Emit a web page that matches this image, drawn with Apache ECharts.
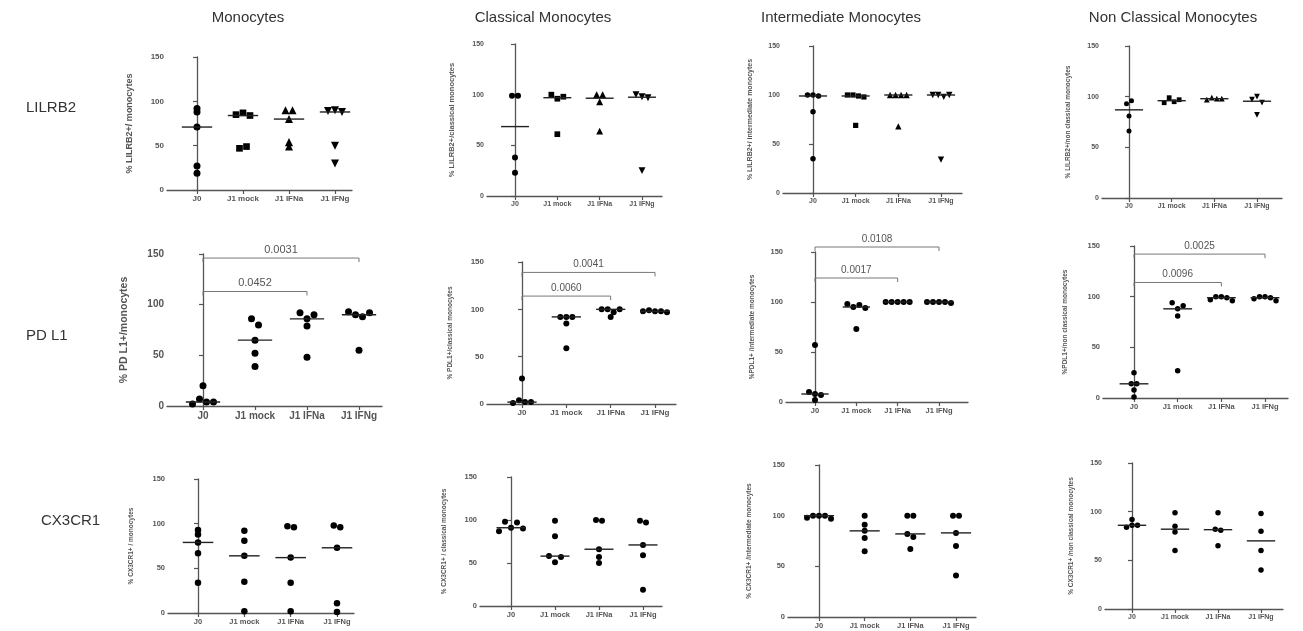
<!DOCTYPE html>
<html>
<head>
<meta charset="utf-8">
<script src="https://cdn.jsdelivr.net/npm/echarts@6/dist/echarts.min.js"></script>
<style>
html, body { margin: 0; background: #fff; }
#main { width: 1303px; height: 631px; }
</style>
</head>
<body>
<div id="main"></div>
<script>
var groups = ['J0', 'J1 mock', 'J1 IFNa', 'J1 IFNg'];
var yTicks = [0, 50, 100, 150];
var columns = ['Monocytes', 'Classical Monocytes', 'Intermediate Monocytes', 'Non Classical Monocytes'];
var rows = ['LILRB2', 'PD L1', 'CX3CR1'];

// LILRB2
var lilrb2Mono = [[92, 88, 71, 27, 19], [85, 87, 84, 47, 49], [90, 90, 80, 54, 49], [89, 90, 88, 50, 30]];
var lilrb2Classical = [[99, 99, 38, 23], [100, 96, 98, 61], [100, 100, 93, 64], [100, 98, 97, 25]];
var lilrb2Inter = [[100, 100, 99, 83, 35], [100, 100, 99, 98, 69], [100, 100, 100, 100, 68], [100, 100, 98, 100, 34]];
var lilrb2NonClass = [[93, 96, 81, 66], [94, 99, 95, 97], [97, 99, 98, 98], [97, 100, 94, 82]];
// PD L1
var pdl1Mono = [[2, 7, 20, 4, 4], [86, 80, 65, 52, 39], [92, 86, 90, 79, 48], [93, 90, 88, 92, 55]];
var pdl1Classical = [[1, 4, 2, 2, 27], [92, 92, 92, 85, 59], [100, 100, 97, 100, 92], [98, 99, 98, 98, 97]];
var pdl1Inter = [[10, 2, 8, 7, 57], [98, 95, 97, 94, 73], [100, 100, 100, 100, 100], [100, 100, 100, 100, 99]];
var pdl1NonClass = [[25, 14, 14, 8, 1], [94, 88, 91, 81, 27], [97, 100, 100, 99, 96], [98, 100, 100, 99, 96]];
// CX3CR1
var cx3cr1Mono = [[93, 88, 79, 67, 34], [92, 81, 64, 35, 2], [97, 96, 62, 34, 2], [98, 96, 73, 11, 1]];
var cx3cr1Classical = [[87, 98, 91, 97, 90], [99, 81, 58, 51, 57], [100, 99, 66, 57, 50], [99, 97, 71, 59, 19]];
var cx3cr1Inter = [[98, 100, 100, 100, 97], [100, 91, 85, 78, 65], [100, 100, 82, 79, 67], [100, 100, 83, 70, 41]];
var cx3cr1NonClass = [[84, 92, 86, 86], [99, 85, 79, 60], [99, 82, 81, 65], [98, 80, 60, 40]];

// p values : [from group, to group, bracket height, text]
var pdl1MonoP = [[0, 2, 113, '0.0452'], [0, 3, 146, '0.0031']];
var pdl1ClassicalP = [[0, 2, 114, '0.0060'], [0, 3, 139, '0.0041']];
var pdl1InterP = [[0, 2, 124, '0.0017'], [0, 3, 155, '0.0108']];
var pdl1NonClassP = [[0, 2, 114, '0.0096'], [0, 3, 142, '0.0025']];

// layout of the 12 panels (pixels)
var panels = [
  {values: lilrb2Mono, name: '% LILRB2+/ monocytes', axisX: 167, top: 57, zero: 190, first: 197, last: 335, right: 352, d: 7, gap: 3, font: 8, nameSize: 9, nameGap: 33, shapes: true},
  {values: lilrb2Classical, name: '% LILRB2+/classical monocytes', axisX: 487, top: 44, zero: 196, first: 515, last: 642, right: 662, d: 6, font: 7, nameSize: 7.5, nameGap: 31, shapes: true},
  {values: lilrb2Inter, name: '% LILRB2+/ intermediate monocytes', axisX: 783, top: 46, zero: 193, first: 813, last: 941, right: 962, d: 5.5, font: 7, nameSize: 7, nameGap: 29, shapes: true},
  {values: lilrb2NonClass, name: '% LILRB2+/non classical monocytes', axisX: 1102, top: 46, zero: 198, first: 1129, last: 1257, right: 1282, d: 5, font: 7, nameSize: 6.5, nameGap: 30, shapes: true},
  {values: pdl1Mono, name: '% PD L1+/monocytes', axisX: 167, top: 254, zero: 406, first: 203, last: 359, right: 382, d: 7, gap: 7, font: 10, nameSize: 10.5, nameGap: 37, pvals: pdl1MonoP},
  {values: pdl1Classical, name: '% PDL1+/classical monocytes', axisX: 487, top: 262, zero: 404, first: 522, last: 655, right: 676, d: 6, gap: 3.5, font: 8, nameSize: 6.5, nameGap: 33, pvals: pdl1ClassicalP},
  {values: pdl1Inter, name: '%PDL1+ /intermediate monocytes', axisX: 786, top: 252, zero: 402, first: 815, last: 939, right: 968, d: 6, font: 7.5, nameSize: 6.5, nameGap: 30, pvals: pdl1InterP},
  {values: pdl1NonClass, name: '%PDL1+/non classical monocytes', axisX: 1103, top: 246, zero: 398, first: 1134, last: 1265, right: 1288, d: 5.5, font: 7.5, nameSize: 6.5, nameGap: 34, pvals: pdl1NonClassP},
  {values: cx3cr1Mono, name: '% CX3CR1+ / monocytes', axisX: 168, top: 479, zero: 613, first: 198, last: 337, right: 354, d: 6.5, gap: 3, font: 7.5, nameSize: 6.5, nameGap: 33},
  {values: cx3cr1Classical, name: '% CX3CR1+ / classical monocytes', axisX: 480, top: 477, zero: 606, first: 511, last: 643, right: 662, d: 6, gap: 5.8, font: 7.5, nameSize: 6.5, nameGap: 32},
  {values: cx3cr1Inter, name: '% CX3CR1+ /intermediate monocytes', axisX: 788, top: 465, zero: 617, first: 819, last: 956, right: 976, d: 6, font: 7.5, nameSize: 6.5, nameGap: 35},
  {values: cx3cr1NonClass, name: '% CX3CR1+ /non classical monocytes', axisX: 1105, top: 463, zero: 609, first: 1132, last: 1261, right: 1283, d: 5.5, font: 7, nameSize: 6.5, nameGap: 30}
];
var colX = [248, 543, 841, 1173];
var rowPos = [[26, 108], [26, 336], [41, 521]];

var shapeList = ['circle', 'rect', 'triangle', 'triangle'];
var FONT = 'Liberation Sans, Arial, sans-serif';

function median(arr) {
  var s = arr.slice().sort(function (a, b) { return a - b; });
  var m = Math.floor(s.length / 2);
  return s.length % 2 ? s[m] : (s[m - 1] + s[m]) / 2;
}

// spread points that sit on the same row (scatter dot plot style)
function spread(vals, pxPerUnit, gapPx, d) {
  var order = vals.map(function (v, i) { return i; }).sort(function (a, b) { return vals[b] - vals[a]; });
  var out = [];
  var cluster = [order[0]];
  function flush() {
    var c = cluster.slice().sort(function (a, b) { return a - b; });
    c.forEach(function (idx, k) { out[idx] = (k - (c.length - 1) / 2) * d; });
  }
  for (var i = 1; i < order.length; i++) {
    var prev = order[i - 1], cur = order[i];
    if ((vals[prev] - vals[cur]) * pxPerUnit < gapPx) {
      cluster.push(cur);
    } else {
      flush();
      cluster = [cur];
    }
  }
  flush();
  return out;
}

var grid = [], xAxis = [], yAxis = [], series = [];
panels.forEach(function (p, n) {
  var step = (p.last - p.first) / 3;
  var pxPerUnit = (p.zero - p.top) / 150;
  var gap = p.gap != null ? p.gap : p.d * 0.8;
  grid.push({left: p.axisX, top: p.top, width: p.right - p.axisX, height: p.zero - p.top});
  xAxis.push({
    gridIndex: n,
    type: 'value',
    min: (p.axisX - p.first) / step,
    max: 3 + (p.right - p.last) / step,
    splitLine: {show: false},
    axisLine: {show: true, onZero: false, lineStyle: {color: '#555', width: 1.3}},
    axisTick: {show: true, customValues: [0, 1, 2, 3], length: 4, lineStyle: {color: '#555', width: 1.2}},
    axisLabel: {
      customValues: [0, 1, 2, 3],
      formatter: function (v) { return groups[Math.round(v)]; },
      fontSize: p.font, color: '#555', fontWeight: 'bold', fontFamily: FONT, margin: 5
    }
  });
  yAxis.push({
    gridIndex: n,
    type: 'value',
    min: 0, max: 150,
    name: p.name,
    nameLocation: 'middle',
    nameGap: p.nameGap,
    nameTextStyle: {fontSize: p.nameSize, color: '#555', fontWeight: 'bold', fontFamily: FONT},
    splitLine: {show: false},
    axisLine: {show: true, lineStyle: {color: '#555', width: 1.3}},
    axisTick: {show: true, customValues: yTicks, length: 4, lineStyle: {color: '#555', width: 1.2}},
    axisLabel: {customValues: yTicks, fontSize: p.font, color: '#555', fontWeight: 'bold', fontFamily: FONT, margin: 3}
  });

  p.values.forEach(function (vals, g) {
    var offs = spread(vals, pxPerUnit, gap, p.d);
    var sym = p.shapes ? shapeList[g] : 'circle';
    var size = p.d;
    if (p.shapes && g === 1) size = p.d * 0.95;
    if (p.shapes && g >= 2) size = p.d * 1.15;
    series.push({
      type: 'scatter',
      xAxisIndex: n, yAxisIndex: n,
      symbol: sym,
      symbolRotate: p.shapes && g === 3 ? 180 : 0,
      symbolSize: size,
      itemStyle: {color: '#000', opacity: 1},
      silent: true,
      z: 3,
      data: vals.map(function (v, k) { return [g + offs[k] / step, v]; })
    });
  });

  // median lines
  series.push({
    type: 'custom',
    xAxisIndex: n, yAxisIndex: n,
    silent: true,
    z: 4,
    data: p.values.map(function (vals, g) { return [g, median(vals)]; }),
    renderItem: function (params, api) {
      var a = api.coord([api.value(0) - 0.33, api.value(1)]);
      var b = api.coord([api.value(0) + 0.33, api.value(1)]);
      return {type: 'line', shape: {x1: a[0], y1: a[1], x2: b[0], y2: b[1]}, style: {stroke: '#222', lineWidth: 1.4}};
    }
  });

  // significance brackets
  if (p.pvals) {
    series.push({
      type: 'custom',
      xAxisIndex: n, yAxisIndex: n,
      silent: true,
      clip: false,
      encode: {x: [0, 1], y: 2},
      data: p.pvals.map(function (r) { return [r[0], r[1], r[2]]; }),
      renderItem: function (params, api) {
        var a = api.coord([api.value(0), api.value(2)]);
        var b = api.coord([api.value(1), api.value(2)]);
        var txt = p.pvals[params.dataIndex][3];
        return {
          type: 'group',
          children: [{
            type: 'polyline',
            shape: {points: [[a[0], a[1] + 4], [a[0], a[1]], [b[0], b[1]], [b[0], b[1] + 4]]},
            style: {stroke: '#777', lineWidth: 1, fill: null}
          }, {
            type: 'text',
            style: {
              text: txt, x: (a[0] + b[0]) / 2, y: a[1] - 3,
              align: 'center', verticalAlign: 'bottom',
              fill: '#555', fontSize: p.font >= 10 ? 11 : 10, fontFamily: FONT
            }
          }]
        };
      }
    });
  }
});

var graphic = [];
columns.forEach(function (c, i) {
  graphic.push({type: 'text', x: colX[i], y: 18, style: {text: c, align: 'center', verticalAlign: 'middle', fill: '#333', fontSize: 15, fontFamily: FONT}});
});
rows.forEach(function (r, i) {
  graphic.push({type: 'text', x: rowPos[i][0], y: rowPos[i][1], style: {text: r, align: 'left', verticalAlign: 'middle', fill: '#333', fontSize: 15, fontFamily: FONT}});
});

var myChart = echarts.init(document.getElementById('main'));
myChart.setOption({
  animation: false,
  backgroundColor: '#fff',
  grid: grid,
  xAxis: xAxis,
  yAxis: yAxis,
  graphic: graphic,
  series: series
});
</script>
</body>
</html>
